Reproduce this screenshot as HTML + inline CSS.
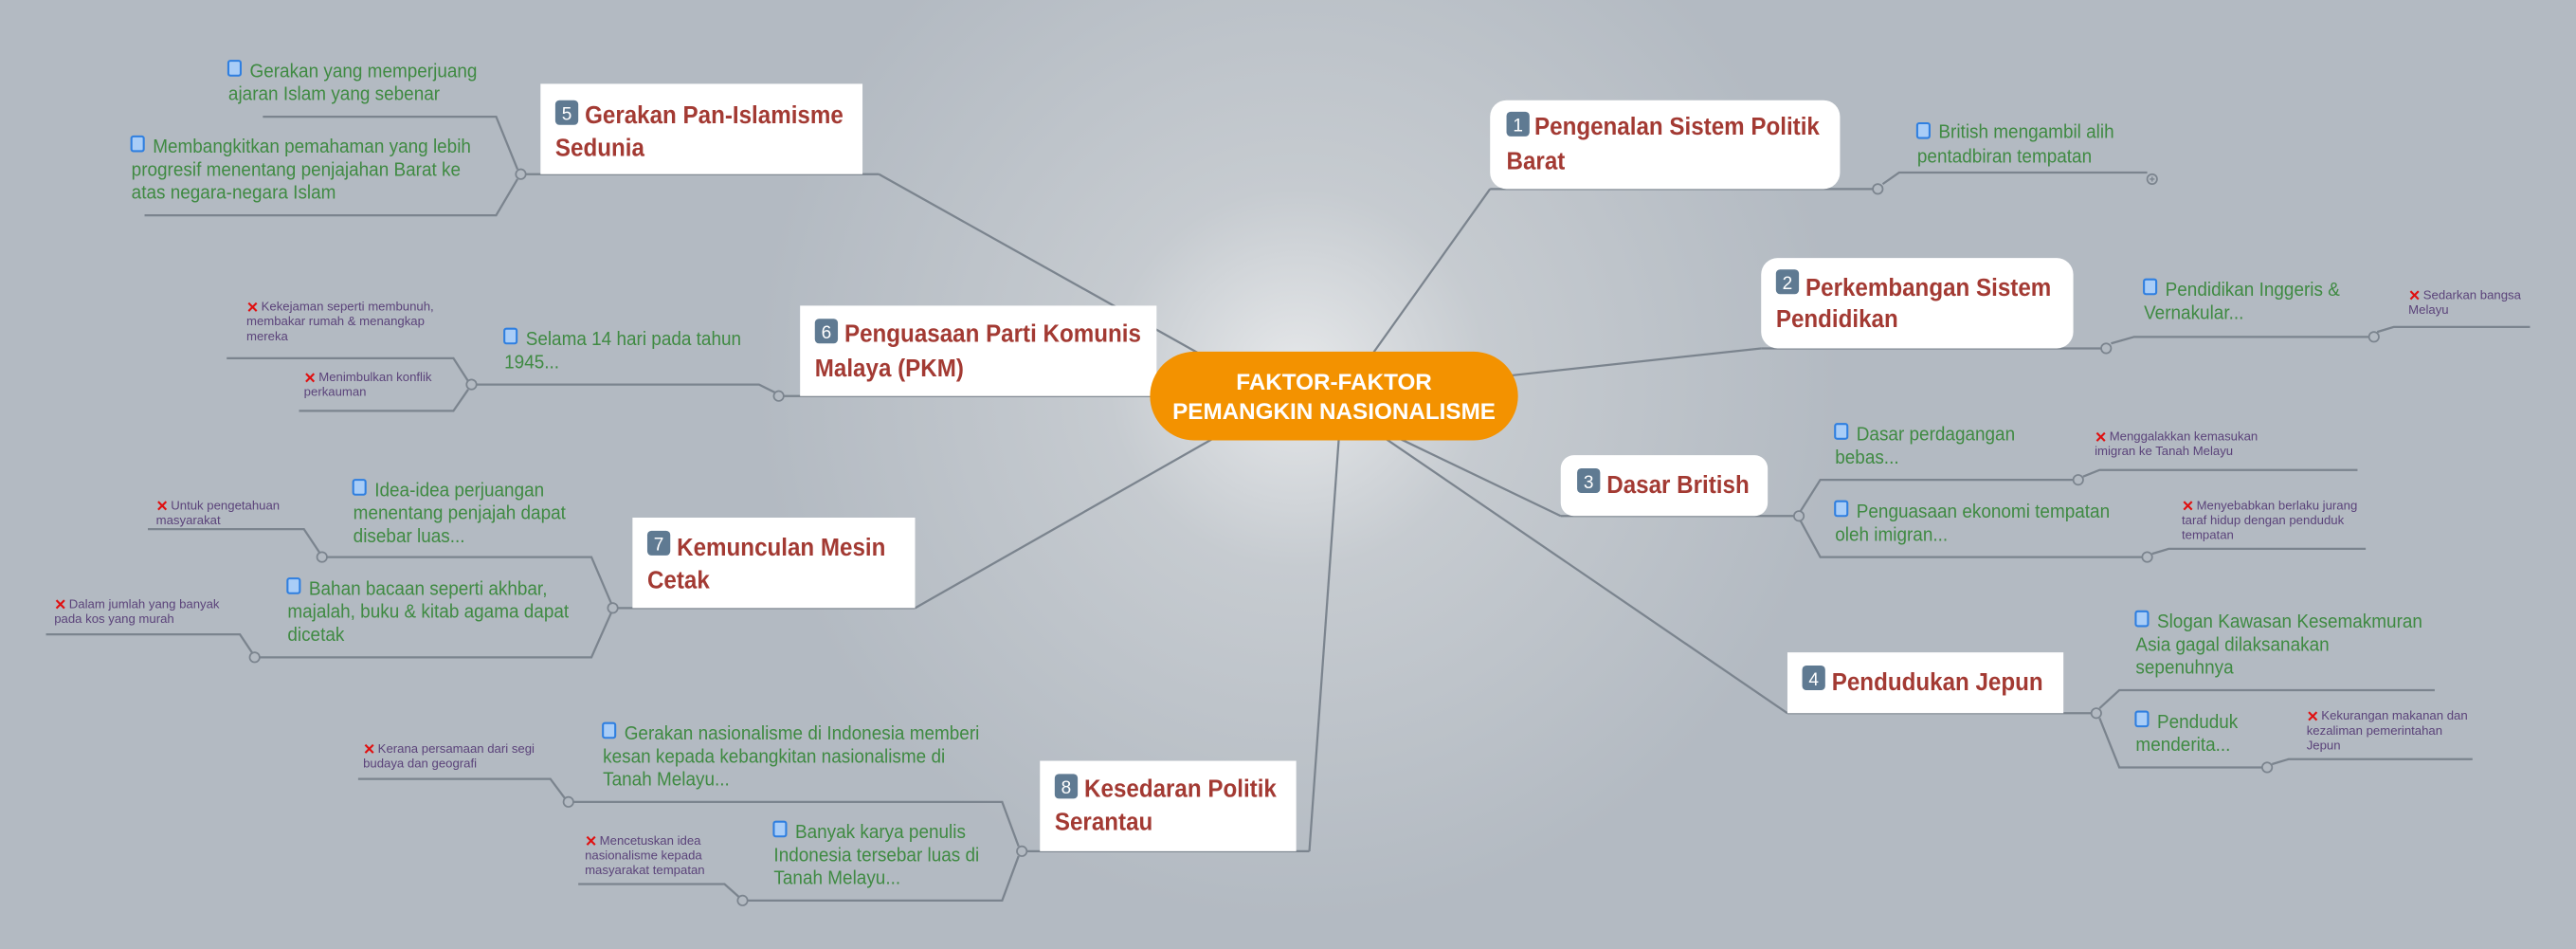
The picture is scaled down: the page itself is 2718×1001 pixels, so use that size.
<!DOCTYPE html>
<html><head><meta charset="utf-8"><style>
html,body{margin:0;padding:0;width:2718px;height:1001px;overflow:hidden;background:#b3bac2}
svg{display:block}
text{font-family:"Liberation Sans Narrow","Liberation Sans",sans-serif}
.t{fill:#a33a33;font-size:15px;font-weight:bold;transform-box:fill-box;transform-origin:0 50%;transform:scaleX(0.93)}
.g{fill:#3f8a42;font-size:11.5px;transform-box:fill-box;transform-origin:0 50%;transform:scaleX(0.95)}
.p{fill:#5b437a;font-size:7.6px}
.c{fill:#fff;font-size:14px;font-weight:bold}
.l{stroke:#7b848e;stroke-width:1.3;fill:none}
.o{fill:#b3bac2;stroke:#7b848e;stroke-width:1}
.x{fill:#e01010;font-size:9px;font-weight:bold}
</style></head><body>
<svg width="2718" height="1001" viewBox="0 0 1568 577.5" preserveAspectRatio="none">
<defs>
<radialGradient id="bg" cx="790" cy="230" r="330" gradientUnits="userSpaceOnUse">
<stop offset="0" stop-color="#e6e8ea"/><stop offset="0.35" stop-color="#c6cbd0"/><stop offset="1" stop-color="#b3bac2"/>
</radialGradient>
<g id="note"><rect x="0" y="0" width="7.5" height="9" rx="1.2" fill="#a9cdf7" stroke="#2f7fe0" stroke-width="1.2"/></g>
</defs>
<rect width="1568" height="577.5" fill="#b3bac2"/>
<rect width="1568" height="577.5" fill="url(#bg)"/>

<path class="l" d="M835 216 L907 115"/>
<path class="l" d="M915 229 L1072 212"/>
<path class="l" d="M850 266 L950 314"/>
<path class="l" d="M842 266 L1088 434"/>
<path class="l" d="M735 218 L535 106"/>
<path class="l" d="M740 266 L557 370"/>
<path class="l" d="M815 266 L797 518"/>

<!-- Node 1 -->
<path class="l" d="M907 115 L1141 115"/>
<path class="l" d="M1146 112 L1156 105 L1307 105"/>
<circle class="o" cx="1143" cy="115" r="3"/>
<circle class="o" cx="1310" cy="109" r="3"/><path d="M1308.5 109h3M1310 107.5v3" stroke="#7b848e" stroke-width="0.8"/>
<rect x="907" y="61" width="213" height="54" rx="10" fill="#fff"/>
<rect x="917" y="68" width="14" height="15" rx="2.5" fill="#5f7a92"/><text x="924" y="80" text-anchor="middle" style="fill:#fff;font-size:11px;font-family:'Liberation Sans',sans-serif">1</text>
<text class="t" x="934" y="82">Pengenalan Sistem Politik</text>
<text class="t" x="917" y="103">Barat</text>
<use href="#note" x="1167" y="75"/>
<text class="g" x="1180" y="84">British mengambil alih</text>
<text class="g" x="1167" y="99">pentadbiran tempatan</text>

<!-- Node 2 -->
<path class="l" d="M1072 212 L1280 212"/>
<path class="l" d="M1285 209 L1299 205 L1442 205"/>
<path class="l" d="M1447 202 L1457 199 L1540 199"/>
<circle class="o" cx="1282" cy="212" r="3"/>
<circle class="o" cx="1445" cy="205" r="3"/>
<rect x="1072" y="157" width="190" height="55" rx="10" fill="#fff"/>
<rect x="1081" y="164" width="14" height="15" rx="2.5" fill="#5f7a92"/><text x="1088" y="176" text-anchor="middle" style="fill:#fff;font-size:11px;font-family:'Liberation Sans',sans-serif">2</text>
<text class="t" x="1099" y="180">Perkembangan Sistem</text>
<text class="t" x="1081" y="199">Pendidikan</text>
<use href="#note" x="1305" y="170"/>
<text class="g" x="1318" y="180">Pendidikan Inggeris &amp;</text>
<text class="g" x="1305" y="194">Vernakular...</text>
<text class="x" x="1466" y="183">✕</text>
<text class="p" x="1475" y="182">Sedarkan bangsa</text>
<text class="p" x="1466" y="191">Melayu</text>

<!-- Node 3 -->
<path class="l" d="M950 314 L1093 314"/>
<path class="l" d="M1096 311 L1108 292 L1263 292"/>
<path class="l" d="M1268 290 L1278 286 L1435 286"/>
<path class="l" d="M1096 317 L1108 339 L1305 339"/>
<path class="l" d="M1310 337 L1320 334 L1440 334"/>
<circle class="o" cx="1095" cy="314" r="3"/>
<circle class="o" cx="1265" cy="292" r="3"/>
<circle class="o" cx="1307" cy="339" r="3"/>
<rect x="950" y="277" width="126" height="37" rx="8" fill="#fff"/>
<rect x="960" y="285" width="14" height="15" rx="2.5" fill="#5f7a92"/><text x="967" y="297" text-anchor="middle" style="fill:#fff;font-size:11px;font-family:'Liberation Sans',sans-serif">3</text>
<text class="t" x="978" y="300">Dasar British</text>
<use href="#note" x="1117" y="258"/>
<text class="g" x="1130" y="268">Dasar perdagangan</text>
<text class="g" x="1117" y="282">bebas...</text>
<text class="x" x="1275" y="269">✕</text>
<text class="p" x="1284" y="268">Menggalakkan kemasukan</text>
<text class="p" x="1275" y="277">imigran ke Tanah Melayu</text>
<use href="#note" x="1117" y="305"/>
<text class="g" x="1130" y="315">Penguasaan ekonomi tempatan</text>
<text class="g" x="1117" y="329">oleh imigran...</text>
<text class="x" x="1328" y="311">✕</text>
<text class="p" x="1337" y="310">Menyebabkan berlaku jurang</text>
<text class="p" x="1328" y="319">taraf hidup dengan penduduk</text>
<text class="p" x="1328" y="328">tempatan</text>

<!-- Node 4 -->
<path class="l" d="M1088 434 L1274 434"/>
<path class="l" d="M1278 431 L1290 420 L1482 420"/>
<path class="l" d="M1278 437 L1290 467 L1378 467"/>
<path class="l" d="M1383 465 L1393 462 L1505 462"/>
<circle class="o" cx="1276" cy="434" r="3"/>
<circle class="o" cx="1380" cy="467" r="3"/>
<rect x="1088" y="397" width="168" height="37" fill="#fff"/>
<rect x="1097" y="405" width="14" height="15" rx="2.5" fill="#5f7a92"/><text x="1104" y="417" text-anchor="middle" style="fill:#fff;font-size:11px;font-family:'Liberation Sans',sans-serif">4</text>
<text class="t" x="1115" y="420">Pendudukan Jepun</text>
<use href="#note" x="1300" y="372"/>
<text class="g" x="1313" y="382">Slogan Kawasan Kesemakmuran</text>
<text class="g" x="1300" y="396">Asia gagal dilaksanakan</text>
<text class="g" x="1300" y="410">sepenuhnya</text>
<use href="#note" x="1300" y="433"/>
<text class="g" x="1313" y="443">Penduduk</text>
<text class="g" x="1300" y="457">menderita...</text>
<text class="x" x="1404" y="439">✕</text>
<text class="p" x="1413" y="438">Kekurangan makanan dan</text>
<text class="p" x="1404" y="447">kezaliman pemerintahan</text>
<text class="p" x="1404" y="456">Jepun</text>

<!-- Node 5 -->
<path class="l" d="M319 106 L535 106"/>
<path class="l" d="M315 103 L302 71 L160 71"/>
<path class="l" d="M315 109 L302 131 L88 131"/>
<circle class="o" cx="317" cy="106" r="3"/>
<rect x="329" y="51" width="196" height="55" fill="#fff"/>
<rect x="338" y="61" width="14" height="15" rx="2.5" fill="#5f7a92"/><text x="345" y="73" text-anchor="middle" style="fill:#fff;font-size:11px;font-family:'Liberation Sans',sans-serif">5</text>
<text class="t" x="356" y="75">Gerakan Pan-Islamisme</text>
<text class="t" x="338" y="95">Sedunia</text>
<use href="#note" x="139" y="37"/>
<text class="g" x="152" y="47">Gerakan yang memperjuang</text>
<text class="g" x="139" y="61">ajaran Islam yang sebenar</text>
<use href="#note" x="80" y="83"/>
<text class="g" x="93" y="93">Membangkitkan pemahaman yang lebih</text>
<text class="g" x="80" y="107">progresif menentang penjajahan Barat ke</text>
<text class="g" x="80" y="121">atas negara-negara Islam</text>

<!-- Node 6 -->
<path class="l" d="M477 241 L704 241"/>
<path class="l" d="M472 239 L462 234 L290 234"/>
<path class="l" d="M285 232 L276 218 L138 218"/>
<path class="l" d="M285 237 L276 250 L182 250"/>
<circle class="o" cx="474" cy="241" r="3"/>
<circle class="o" cx="287" cy="234" r="3"/>
<rect x="487" y="186" width="217" height="55" fill="#fff"/>
<rect x="496" y="194" width="14" height="15" rx="2.5" fill="#5f7a92"/><text x="503" y="206" text-anchor="middle" style="fill:#fff;font-size:11px;font-family:'Liberation Sans',sans-serif">6</text>
<text class="t" x="514" y="208">Penguasaan Parti Komunis</text>
<text class="t" x="496" y="229">Malaya (PKM)</text>
<use href="#note" x="307" y="200"/>
<text class="g" x="320" y="210">Selama 14 hari pada tahun</text>
<text class="g" x="307" y="224">1945...</text>
<text class="x" x="150" y="190">✕</text>
<text class="p" x="159" y="189">Kekejaman seperti membunuh,</text>
<text class="p" x="150" y="198">membakar rumah &amp; menangkap</text>
<text class="p" x="150" y="207">mereka</text>
<text class="x" x="185" y="233">✕</text>
<text class="p" x="194" y="232">Menimbulkan konflik</text>
<text class="p" x="185" y="241">perkauman</text>

<!-- Node 7 -->
<path class="l" d="M376 370 L557 370"/>
<path class="l" d="M372 367 L360 339 L198 339"/>
<path class="l" d="M195 337 L185 322 L90 322"/>
<path class="l" d="M372 373 L360 400 L157 400"/>
<path class="l" d="M154 398 L146 386 L28 386"/>
<circle class="o" cx="373" cy="370" r="3"/>
<circle class="o" cx="196" cy="339" r="3"/>
<circle class="o" cx="155" cy="400" r="3"/>
<rect x="385" y="315" width="172" height="55" fill="#fff"/>
<rect x="394" y="323" width="14" height="15" rx="2.5" fill="#5f7a92"/><text x="401" y="335" text-anchor="middle" style="fill:#fff;font-size:11px;font-family:'Liberation Sans',sans-serif">7</text>
<text class="t" x="412" y="338">Kemunculan Mesin</text>
<text class="t" x="394" y="358">Cetak</text>
<use href="#note" x="215" y="292"/>
<text class="g" x="228" y="302">Idea-idea perjuangan</text>
<text class="g" x="215" y="316">menentang penjajah dapat</text>
<text class="g" x="215" y="330">disebar luas...</text>
<text class="x" x="95" y="311">✕</text>
<text class="p" x="104" y="310">Untuk pengetahuan</text>
<text class="p" x="95" y="319">masyarakat</text>
<use href="#note" x="175" y="352"/>
<text class="g" x="188" y="362">Bahan bacaan seperti akhbar,</text>
<text class="g" x="175" y="376">majalah, buku &amp; kitab agama dapat</text>
<text class="g" x="175" y="390">dicetak</text>
<text class="x" x="33" y="371">✕</text>
<text class="p" x="42" y="370">Dalam jumlah yang banyak</text>
<text class="p" x="33" y="379">pada kos yang murah</text>

<!-- Node 8 -->
<path class="l" d="M625 518 L797 518"/>
<path class="l" d="M620 515 L610 488 L349 488"/>
<path class="l" d="M344 486 L335 474 L218 474"/>
<path class="l" d="M620 521 L610 548 L455 548"/>
<path class="l" d="M450 546 L441 538 L352 538"/>
<circle class="o" cx="622" cy="518" r="3"/>
<circle class="o" cx="346" cy="488" r="3"/>
<circle class="o" cx="452" cy="548" r="3"/>
<rect x="633" y="463" width="156" height="55" fill="#fff"/>
<rect x="642" y="471" width="14" height="15" rx="2.5" fill="#5f7a92"/><text x="649" y="483" text-anchor="middle" style="fill:#fff;font-size:11px;font-family:'Liberation Sans',sans-serif">8</text>
<text class="t" x="660" y="485">Kesedaran Politik</text>
<text class="t" x="642" y="505">Serantau</text>
<use href="#note" x="367" y="440"/>
<text class="g" x="380" y="450">Gerakan nasionalisme di Indonesia memberi</text>
<text class="g" x="367" y="464">kesan kepada kebangkitan nasionalisme di</text>
<text class="g" x="367" y="478">Tanah Melayu...</text>
<text class="x" x="221" y="459">✕</text>
<text class="p" x="230" y="458">Kerana persamaan dari segi</text>
<text class="p" x="221" y="467">budaya dan geografi</text>
<use href="#note" x="471" y="500"/>
<text class="g" x="484" y="510">Banyak karya penulis</text>
<text class="g" x="471" y="524">Indonesia tersebar luas di</text>
<text class="g" x="471" y="538">Tanah Melayu...</text>
<text class="x" x="356" y="515">✕</text>
<text class="p" x="365" y="514">Mencetuskan idea</text>
<text class="p" x="356" y="523">nasionalisme kepada</text>
<text class="p" x="356" y="532">masyarakat tempatan</text>

<!-- Center -->
<rect x="700" y="214" width="224" height="54" rx="27" fill="#f39200"/>
<text class="c" x="812" y="237" text-anchor="middle">FAKTOR-FAKTOR</text>
<text class="c" x="812" y="255" text-anchor="middle">PEMANGKIN NASIONALISME</text>
</svg>
</body></html>
